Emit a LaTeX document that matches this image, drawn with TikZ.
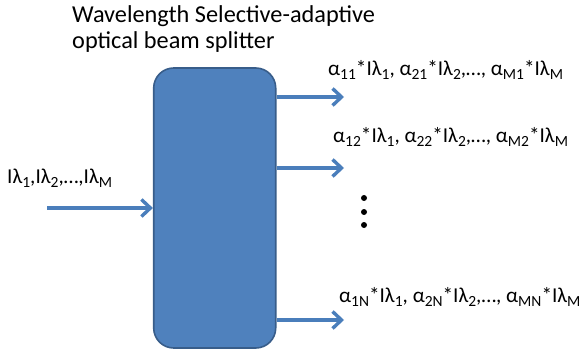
\documentclass[tikz,border=0pt]{standalone}
\usepackage{fontspec}
\setmainfont{Carlito}
\usetikzlibrary{arrows.meta}
\definecolor{boxfill}{HTML}{4F81BD}
\definecolor{boxline}{HTML}{385D8A}
\definecolor{arr}{HTML}{4A7EBB}
\newcommand{\sbs}[1]{\raisebox{-4pt}{\fontsize{15.5}{15.5}\selectfont #1}}
\begin{document}
\begin{tikzpicture}[x=1pt,y=-1pt,
  conn/.style={draw=arr,line width=3.4pt,-{Straight Barb[length=9pt,width=17pt]}},
  lbl/.style={font=\fontsize{21.2}{26}\selectfont,inner sep=0pt,anchor=base west},
  dotc/.style={circle,fill=black,inner sep=0pt,minimum size=6pt}]
\useasboundingbox (0,0) rectangle (585,355);
\node[draw=boxline,line width=1.6pt,fill=boxfill,rounded corners=20pt,minimum width=122pt,minimum height=280pt,inner sep=0pt] (split) at (214.7,208) {};
\node[lbl,align=left,font=\fontsize{24.3}{26.5}\selectfont] (title) at (72,49) {Wavelength Selective-adaptive\\optical beam splitter};
\node[lbl] (in) at (7,183) {Iλ\sbs{1},Iλ\sbs{2},…,Iλ\sbs{M}};
\coordinate (inS) at (47,208);
\coordinate (o1) at (344,97);
\coordinate (o2) at (344,168);
\coordinate (o3) at (344,320);
\draw[conn] (inS) -- (inS -| split.west);
\draw[conn] (o1 -| split.east) -- (o1);
\draw[conn] (o2 -| split.east) -- (o2);
\draw[conn] (o3 -| split.east) -- (o3);
\node[lbl] (l1) at (328,76) {α\sbs{11}*Iλ\sbs{1}, α\sbs{21}*Iλ\sbs{2},…, α\sbs{M1}*Iλ\sbs{M}};
\node[lbl] (l2) at (333,143) {α\sbs{12}*Iλ\sbs{1}, α\sbs{22}*Iλ\sbs{2},…, α\sbs{M2}*Iλ\sbs{M}};
\node[lbl] (l3) at (339,302) {α\sbs{1N}*Iλ\sbs{1}, α\sbs{2N}*Iλ\sbs{2},…, α\sbs{MN}*Iλ\sbs{M}};
\node[dotc] (d1) at (364,198) {};
\node[dotc] (d2) at (364,212) {};
\node[dotc] (d3) at (364,225) {};
\end{tikzpicture}
\end{document}
